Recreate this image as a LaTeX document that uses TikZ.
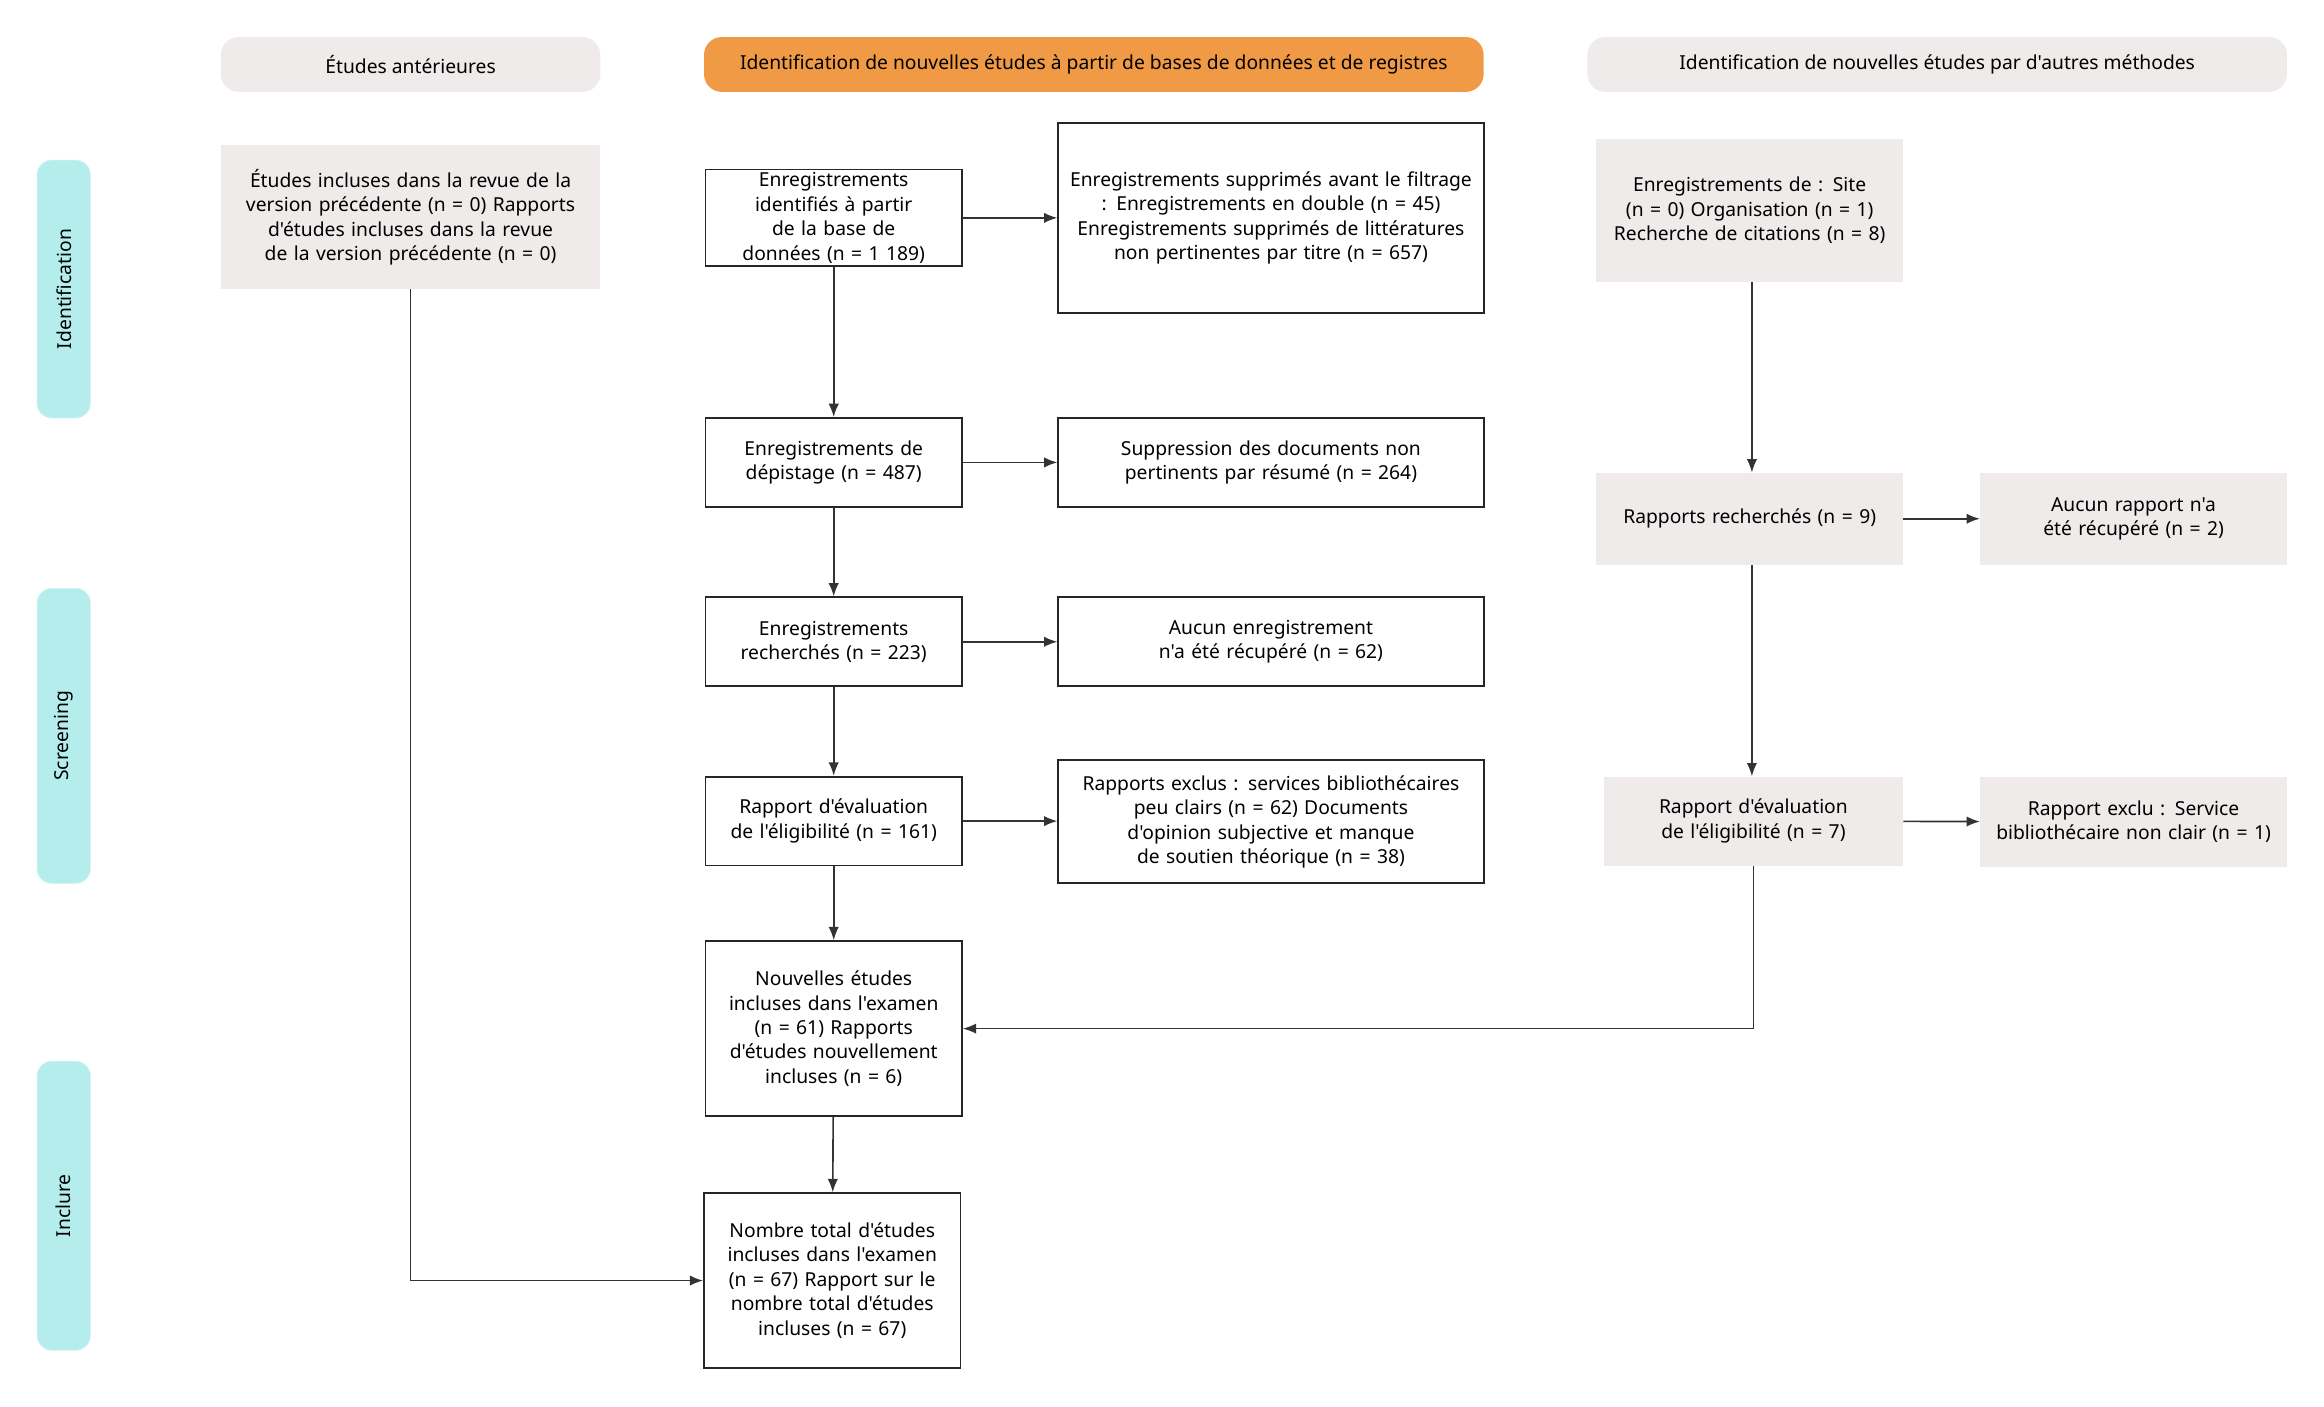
\documentclass[tikz,border=0pt]{standalone}
\usepackage{fontspec}
\setmainfont{Noto Sans}[Ligatures=TeXOff]
\usetikzlibrary{arrows.meta}
\definecolor{cy}{HTML}{B5ECEC}
\definecolor{gr}{HTML}{EFEBEA}
\definecolor{og}{HTML}{F09A45}
\hyphenpenalty=10000
\exhyphenpenalty=10000
\begin{document}
\begin{tikzpicture}[x=1pt,y=-1pt,
  base/.style={font=\fontsize{13}{16.5}\selectfont, align=center, inner sep=2pt},
  wbox/.style={base, draw=black!85, line width=1.2pt, fill=white},
  gbox/.style={base, fill=gr},
  hdr/.style={base, fill=gr, rounded corners=12pt},
  side/.style={base, fill=cy, draw=cy!60!white, rounded corners=10pt, rotate=90},
  arr/.style={-{Latex[length=9pt,width=7pt]}, line width=1.1pt, draw=black!80}]
\useasboundingbox (0,0) rectangle (1568,949);
\fill[white] (0,0) rectangle (1568,949);
\newcommand{\bx}[7]{\node[#1, minimum width=#4-#3, minimum height=#6-#5, text width=#4-#3-12] (#2) at ({(#3+#4)/2},{(#5+#6)/2}) {#7};}
% headers
\node[hdr, minimum width=256, minimum height=37] (h1) at (277,43.5) {Études antérieures};
\node[hdr, fill=og, minimum width=526, minimum height=37] (h2) at (738,43.5) {Identification de nouvelles études à partir de bases de données et de registres};
\node[hdr, minimum width=472, minimum height=37] (h3) at (1307,43.5) {Identification de nouvelles études par d'autres méthodes};
% side
\node[side, minimum width=174, minimum height=36] (s1) at (43,195) {Identification};
\node[side, minimum width=199, minimum height=36] (s2) at (43,496.5) {Screening};
\node[side, minimum width=195, minimum height=36] (s3) at (43,813.5) {Inclure};
% boxes
\bx{gbox}{prev}{149}{405}{98}{195}{Études incluses dans la revue de la version précédente (n = 0) Rapports d'études incluses dans la revue de la version précédente (n = 0)}
\bx{wbox}{id}{476}{649}{116}{178}{Enregistrements identifiés à partir de la base de données (n = 1 189)}
\bx{wbox}{rem}{714}{1001}{83}{211}{Enregistrements supprimés avant le filtrage : Enregistrements en double (n = 45) Enregistrements supprimés de littératures non pertinentes par titre (n = 657)}
\bx{wbox}{scr}{476}{649}{282}{342}{Enregistrements de dépistage (n = 487)}
\bx{wbox}{sup}{714}{1001}{282}{342}{Suppression des documents non pertinents par résumé (n = 264)}
\bx{wbox}{sou}{476}{649}{403}{463}{Enregistrements recherchés (n = 223)}
\bx{wbox}{nret}{714}{1001}{403}{463}{Aucun enregistrement n'a été récupéré (n = 62)}
\bx{wbox}{eli}{476}{649}{524}{584}{Rapport d'évaluation de l'éligibilité (n = 161)}
\bx{wbox}{exc}{714}{1001}{513}{596}{Rapports exclus : services bibliothécaires peu clairs (n = 62) Documents d'opinion subjective et manque de soutien théorique (n = 38)}
\bx{wbox}{new}{476}{649}{635}{753}{Nouvelles études incluses dans l'examen (n = 61) Rapports d'études nouvellement incluses (n = 6)}
\bx{wbox}{tot}{475}{648}{805}{923}{Nombre total d'études incluses dans l'examen (n = 67) Rapport sur le nombre total d'études incluses (n = 67)}
\bx{gbox}{oth}{1077}{1284}{94}{190}{Enregistrements de : Site (n = 0) Organisation (n = 1) Recherche de citations (n = 8)}
\bx{gbox}{rs}{1077}{1284}{319}{381}{Rapports recherchés (n = 9)}
\bx{gbox}{nr2}{1336}{1543}{319}{381}{Aucun rapport n'a été récupéré (n = 2)}
\bx{gbox}{el2}{1082}{1284}{524}{584}{Rapport d'évaluation de l'éligibilité (n = 7)}
\bx{gbox}{ex2}{1336}{1543}{524}{585}{Rapport exclu : Service bibliothécaire non clair (n = 1)}
% arrows
\draw[arr] (id) -- (rem.west |- id);
\draw[arr] (id) -- (scr);
\draw[arr] (scr) -- (sup);
\draw[arr] (scr) -- (sou);
\draw[arr] (sou) -- (nret);
\draw[arr] (sou) -- (eli);
\draw[arr] (eli) -- (exc.west |- eli);
\draw[arr] (eli) -- (new);
\draw[arr] (new) -- (tot);
\draw[arr] (prev.south) |- (tot.west |- 0,864);
\draw[arr] (oth.south -| 1182,0) -- (rs.north -| 1182,0);
\draw[arr] (rs) -- (nr2);
\draw[arr] (rs.south -| 1182,0) -- (el2.north -| 1182,0);
\draw[arr] (el2) -- (ex2);
\draw[arr] (el2.south -| 1183,0) |- (new.east |- 0,694);
\end{tikzpicture}
\end{document}
